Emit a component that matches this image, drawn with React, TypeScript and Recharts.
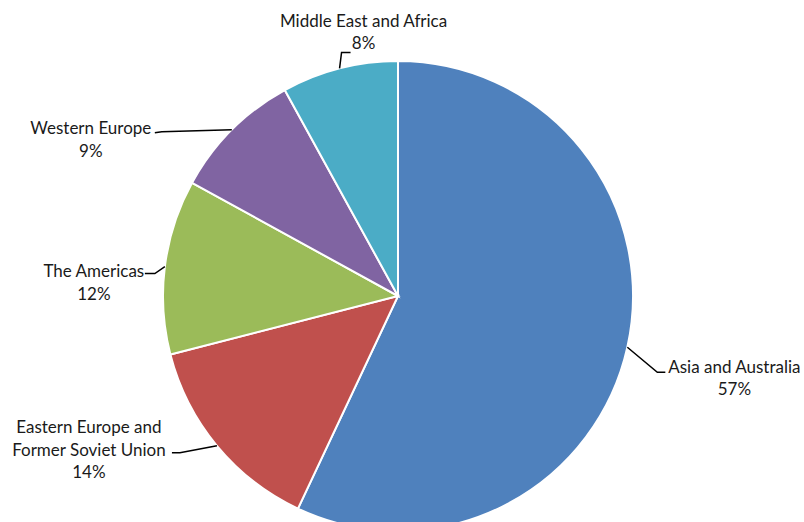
import { PieChart, Pie, Cell } from 'recharts';

const regions = [
  'Asia and Australia',
  'Eastern Europe and Former Soviet Union',
  'The Americas',
  'Western Europe',
  'Middle East and Africa',
];
const shares = [57, 14, 12, 9, 8];
const labelLines = [
  ['Asia and Australia'],
  ['Eastern Europe and', 'Former Soviet Union'],
  ['The Americas'],
  ['Western Europe'],
  ['Middle East and Africa'],
];
const colors = ['#4F81BD', '#C0504D', '#9BBB59', '#8064A2', '#4BACC6'];

const data = regions.map((name, i) => ({ name, value: shares[i] }));

// leader line elbow / end and text position, relative to the point on the rim
const labelLayout = [
  { elbow: [30, 25], end: [38, 25], text: [107, 19] },
  { elbow: [-37, 7], end: [-45, 7], text: [-128, -19] },
  { elbow: [-10, 7], end: [-20, 7], text: [-71, 4] },
  { elbow: [-70, 2], end: [-77, 3], text: [-141, -2] },
  { elbow: [2, -16], end: [11, -16], text: [24, -48] },
];

const RAD = Math.PI / 180;

const renderLabel = (props: any) => {
  const { cx, cy, midAngle, outerRadius, index, value } = props;
  const x = cx + outerRadius * Math.cos(-midAngle * RAD);
  const y = cy + outerRadius * Math.sin(-midAngle * RAD);
  const l = labelLayout[index];
  const lines = [...labelLines[index], `${value}%`];
  return (
    <g key={`lbl-${index}`}>
      <polyline
        points={`${x},${y} ${x + l.elbow[0]},${y + l.elbow[1]} ${x + l.end[0]},${y + l.end[1]}`}
        fill="none"
        stroke="#000"
        strokeWidth={1.5}
      />
      {lines.map((t, j) => (
        <text
          key={j}
          x={x + l.text[0]}
          y={y + l.text[1] + j * 22.5}
          textAnchor="middle"
          dominantBaseline="central"
          fill="#1a1a1a"
          fontSize={17}
          fontFamily="Lato, 'Open Sans', sans-serif"
        >
          {t}
        </text>
      ))}
    </g>
  );
};

export default function App() {
  return (
    <div style={{ position: 'fixed', left: 0, top: 0, width: 804, height: 522, background: '#fff' }}>
      <PieChart width={804} height={522} margin={{ top: 0, right: 0, bottom: 0, left: 0 }}>
        <Pie
          data={data}
          dataKey="value"
          nameKey="name"
          cx={398}
          cy={296}
          outerRadius={235}
          startAngle={90}
          endAngle={-270}
          stroke="#fff"
          strokeWidth={2}
          label={renderLabel}
          labelLine={false}
          isAnimationActive={false}
        >
          {data.map((d, i) => (
            <Cell key={d.name} fill={colors[i]} />
          ))}
        </Pie>
      </PieChart>
    </div>
  );
}
